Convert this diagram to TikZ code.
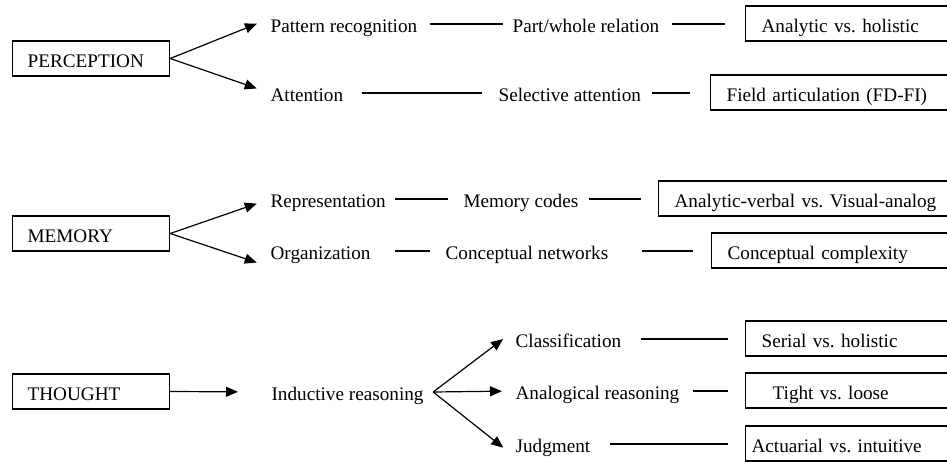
\documentclass[tikz,border=0pt]{standalone}
\usepackage{fontspec}
\setmainfont{Liberation Serif}
\frenchspacing
\usetikzlibrary{arrows.meta}
\tikzset{
  lbl/.style={inner sep=0pt, text height=8pt, text depth=0pt, anchor=base west},
  areabox/.style={draw, anchor=base west, align=left, text width=63.5pt, inner xsep=7.5pt, inner ysep=4pt, text height=9pt, text depth=0.5pt},
  trait/.style={areabox, text width=150pt, inner xsep=8pt},
  fan/.style={-{Triangle[length=6pt,width=5pt]}}
}

\begin{document}
\begin{tikzpicture}[x=0.5pt,y=-0.5pt,line width=0.6pt,font=\fontsize{9.6pt}{11pt}\selectfont]
\useasboundingbox (0,0) rectangle (947,461);
\clip (0,0) rectangle (947,461);
\node[areabox] (perc) at (12,67) {PERCEPTION};
\node[lbl] (pat) at (270,32) {Pattern recognition};
\node[lbl] (part) at (512,32) {Part/whole relation};
\node[trait] (anho) at (745,32) {Analytic vs. holistic};
\node[lbl] (att) at (270,101) {Attention};
\node[lbl] (sel) at (498,101) {Selective attention};
\node[trait] (field) at (710,101) {Field articulation (FD-FI)};
\draw[fan,shorten >=7pt] (perc.east) -- ([yshift=2.75pt]pat.west);
\draw[fan,shorten >=7pt] (perc.east) -- (att.west);
\draw[shorten <=6pt,shorten >=4.5pt] (pat.east) -- (part.west);
\draw[shorten <=6pt,shorten >=10pt] (part.east) -- (part.east -| anho.west);
\draw[shorten <=9pt,shorten >=8pt] (att.east) -- (sel.west);
\draw[shorten <=5pt,shorten >=10pt] (sel.east) -- (sel.east -| field.west);
\node[areabox] (mem) at (12,242) {MEMORY};
\node[lbl] (rep) at (270,207) {Representation};
\node[lbl] (code) at (463,207) {Memory codes};
\node[trait] (verb) at (658,207) {Analytic-verbal vs. Visual-analog};
\node[lbl] (org) at (270,259) {Organization};
\node[lbl] (net) at (445,259) {Conceptual networks};
\node[trait] (cplx) at (711,259) {Conceptual complexity};
\draw[fan,shorten >=7pt] (mem.east) -- (rep.west);
\draw[fan,shorten >=7pt] (mem.east) -- ([yshift=-8pt]org.west);
\draw[shorten <=4.5pt,shorten >=7.5pt] (rep.east) -- (code.west);
\draw[shorten <=5pt,shorten >=8.5pt] (code.east) -- (code.east -| verb.west);
\draw[shorten <=12pt,shorten >=7.5pt] (org.east) -- (net.west);
\draw[shorten <=16.5pt,shorten >=9pt] (net.east) -- (net.east -| cplx.west);
\node[areabox] (thou) at (12,400) {THOUGHT};
\node[lbl] (ind) at (271,400) {Inductive reasoning};
\node[lbl] (cls) at (515,347) {Classification};
\node[trait] (ser) at (745,347) {Serial vs. holistic};
\node[lbl] (ana) at (515,399) {Analogical reasoning};
\node[trait,inner xsep=13.5pt] (tight) at (745,399) {Tight vs. loose};
\node[lbl] (jud) at (515,452) {Judgment};
\node[trait,inner xsep=3pt] (act) at (745,452) {Actuarial vs. intuitive};
\coordinate (fork) at ([xshift=4.5pt]ind.east);
\draw[fan,shorten >=16.5pt] (thou.east) -- (ind.west);
\draw[fan,shorten >=7.5pt] (fork) -- ([yshift=4.5pt]cls.west);
\draw[fan,shorten >=6.5pt] (fork) -- (ana.west);
\draw[fan,shorten >=7.5pt] (fork) -- ([yshift=-6.5pt]jud.west);
\draw[shorten <=9.5pt,shorten >=8.5pt] (cls.east) -- (cls.east -| ser.west);
\draw[shorten <=6.5pt,shorten >=8.5pt] (ana.east) -- (ana.east -| tight.west);
\draw[shorten <=9.5pt,shorten >=8.5pt] (jud.east) -- (jud.east -| act.west);
\end{tikzpicture}
\end{document}
